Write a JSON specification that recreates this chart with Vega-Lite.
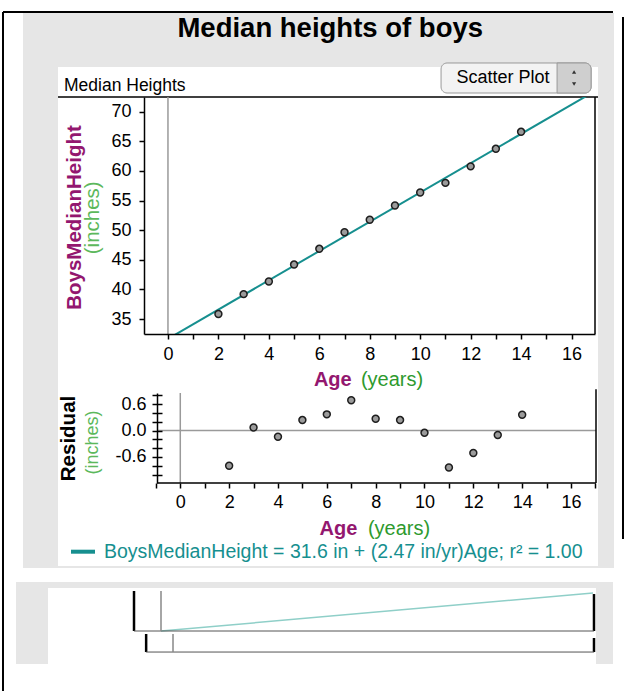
{
  "$schema": "https://vega.github.io/schema/vega-lite/v6.json",
  "background": "white",
  "padding": {"left": 1, "top": 10, "right": 4, "bottom": 0},
  "config": {
    "font": "Liberation Sans",
    "view": {"stroke": null},
    "axis": {"grid": false, "domainColor": "#000", "domainWidth": 1.5, "tickColor": "#000", "tickWidth": 1.5, "tickSize": 5, "labelColor": "#000", "labelFontSize": 18, "labelFont": "Liberation Sans", "labelFlush": false, "labelOverlap": false, "zindex": 1, "titleFont": "Liberation Sans"}
  },
  "datasets": {
    "boys": [
      {"Age": 2, "Height": 35.85, "Residual": -0.80},
      {"Age": 3, "Height": 39.2, "Residual": 0.07},
      {"Age": 4, "Height": 41.34, "Residual": -0.14},
      {"Age": 5, "Height": 44.19, "Residual": 0.24},
      {"Age": 6, "Height": 46.85, "Residual": 0.37},
      {"Age": 7, "Height": 49.65, "Residual": 0.69},
      {"Age": 8, "Height": 51.75, "Residual": 0.27},
      {"Age": 9, "Height": 54.17, "Residual": 0.24},
      {"Age": 10, "Height": 56.36, "Residual": -0.05},
      {"Age": 11, "Height": 57.98, "Residual": -0.84},
      {"Age": 12, "Height": 60.77, "Residual": -0.51},
      {"Age": 13, "Height": 63.73, "Residual": -0.10},
      {"Age": 14, "Height": 66.6, "Residual": 0.36}
    ],
    "one": [{}]
  },
  "bounds": "flush",
  "spacing": 59,
  "vconcat": [
    {
      "width": 451,
      "height": 237,
      "data": {"name": "boys"},
      "resolve": {"axis": {"x": "independent", "y": "independent"}},
      "layer": [
        {"data": {"name": "one"}, "mark": {"type": "rect", "fill": "#e6e6e6"},
         "encoding": {"x": {"datum": -5.747, "axis": null}, "x2": {"datum": 17.683}, "y": {"datum": 86.661, "axis": null}, "y2": {"datum": -7.034}}},
        {"data": {"name": "one"}, "mark": {"type": "rect", "fill": "#ffffff"},
         "encoding": {"x": {"datum": -4.359, "axis": null}, "x2": {"datum": 17.049}, "y": {"datum": 77.545, "axis": null}, "y2": {"datum": -6.696}}},
        {"data": {"name": "one"}, "mark": {"type": "rect", "fill": "#e6e6e6"},
         "encoding": {"x": {"datum": -6.024, "axis": null}, "x2": {"datum": 17.643}, "y": {"datum": -9.397, "axis": null}, "y2": {"datum": -23.24}}},
        {"data": {"name": "one"}, "mark": {"type": "rect", "fill": "#ffffff"},
         "encoding": {"x": {"datum": -4.756, "axis": null}, "x2": {"datum": 16.969}, "y": {"datum": -10.41, "axis": null}, "y2": {"datum": -23.24}}},
        {"data": {"name": "one"}, "mark": {"type": "rule", "color": "#000", "strokeWidth": 2},
         "encoding": {"x": {"datum": -6.54, "axis": null}, "y": {"datum": 86.83, "axis": null}, "y2": {"datum": -27.967}}},
        {"data": {"name": "one"}, "mark": {"type": "rule", "color": "#000", "strokeWidth": 2},
         "encoding": {"x": {"datum": -6.54, "axis": null}, "x2": {"datum": 17.643}, "y": {"datum": 86.83, "axis": null}}},
        {"data": {"name": "one"}, "mark": {"type": "rule", "color": "#000", "strokeWidth": 2},
         "encoding": {"x": {"datum": 18.04, "axis": null}, "y": {"datum": 85.986, "axis": null}, "y2": {"datum": -2.138}}},
        {"data": {"name": "one"}, "mark": {"type": "rule", "color": "#8fcfc8", "strokeWidth": 1.5},
         "encoding": {"x": {"datum": -0.276, "axis": null}, "x2": {"datum": 16.851}, "y": {"datum": -17.67, "axis": null}, "y2": {"datum": -11.25}}},
        {"data": {"name": "one"}, "mark": {"type": "rule", "color": "#000", "strokeWidth": 2.5},
         "encoding": {"x": {"datum": -1.346, "axis": null}, "y": {"datum": -10.92, "axis": null}, "y2": {"datum": -17.67}}},
        {"data": {"name": "one"}, "mark": {"type": "rule", "color": "#000", "strokeWidth": 2.5},
         "encoding": {"x": {"datum": 16.89, "axis": null}, "y": {"datum": -11.43, "axis": null}, "y2": {"datum": -17.67}}},
        {"data": {"name": "one"}, "mark": {"type": "rule", "color": "#000", "strokeWidth": 2.5},
         "encoding": {"x": {"datum": -0.865, "axis": null}, "y": {"datum": -18.18, "axis": null}, "y2": {"datum": -21.22}}},
        {"data": {"name": "one"}, "mark": {"type": "rule", "color": "#000", "strokeWidth": 2.5},
         "encoding": {"x": {"datum": 16.89, "axis": null}, "y": {"datum": -18.85, "axis": null}, "y2": {"datum": -21.22}}},
        {"data": {"name": "one"}, "mark": {"type": "rule", "color": "#555", "strokeWidth": 1},
         "encoding": {"x": {"datum": -1.346, "axis": null}, "x2": {"datum": 16.89}, "y": {"datum": -17.67, "axis": null}}},
        {"data": {"name": "one"}, "mark": {"type": "rule", "color": "#555", "strokeWidth": 1},
         "encoding": {"x": {"datum": -0.865, "axis": null}, "x2": {"datum": 16.89}, "y": {"datum": -21.22, "axis": null}}},
        {"data": {"name": "one"}, "mark": {"type": "rule", "color": "#888", "strokeWidth": 1.5},
         "encoding": {"x": {"datum": -0.276, "axis": null}, "y": {"datum": -10.92, "axis": null}, "y2": {"datum": -17.67}}},
        {"data": {"name": "one"}, "mark": {"type": "rule", "color": "#888", "strokeWidth": 1.5},
         "encoding": {"x": {"datum": 0.2, "axis": null}, "y": {"datum": -18.18, "axis": null}, "y2": {"datum": -21.22}}},
        {"data": {"name": "one"}, "mark": {"type": "rule", "color": "#000", "strokeWidth": 1.5},
         "encoding": {"x": {"datum": -4.359, "axis": null}, "x2": {"datum": 17.049}, "y": {"datum": 72.48, "axis": null}}},
        {"data": {"name": "one"}, "mark": {"type": "rule", "color": "#000", "strokeWidth": 1.5},
         "encoding": {"x": {"datum": 16.93, "axis": null}, "y": {"datum": 32.47, "axis": null}, "y2": {"datum": 72.48}}},
        {"data": {"name": "one"}, "mark": {"type": "rule", "color": "#9a9a9a", "strokeWidth": 1.5},
         "encoding": {"x": {"datum": 0, "axis": null}, "y": {"datum": 32.47, "axis": null}, "y2": {"datum": 72.48}}},
        {"data": {"name": "one"}, "mark": {"type": "text", "text": "Median heights of boys", "fontSize": 27.5, "fontWeight": "bold", "align": "center", "baseline": "alphabetic", "color": "#000"},
         "encoding": {"x": {"datum": 6.433, "axis": null}, "y": {"datum": 82.693, "axis": null}}},
        {"data": {"name": "one"}, "mark": {"type": "text", "text": "Median Heights", "fontSize": 17.5, "align": "left", "baseline": "alphabetic", "color": "#000"},
         "encoding": {"x": {"datum": -4.122, "axis": null}, "y": {"datum": 73.493, "axis": null}}},
        {"data": {"name": "one"}, "mark": {"type": "rect", "fill": "#f3f3f3", "stroke": "#999", "strokeWidth": 1, "cornerRadius": 6},
         "encoding": {"x": {"datum": 10.827, "axis": null}, "x2": {"datum": 16.774}, "y": {"datum": 78.22, "axis": null}, "y2": {"datum": 73.155}}},
        {"data": {"name": "one"}, "mark": {"type": "rect", "fill": "#cfcfcf", "stroke": "#999", "strokeWidth": 1, "cornerRadiusTopRight": 6, "cornerRadiusBottomRight": 6},
         "encoding": {"x": {"datum": 15.426, "axis": null}, "x2": {"datum": 16.774}, "y": {"datum": 78.22, "axis": null}, "y2": {"datum": 73.155}}},
        {"data": {"name": "one"}, "mark": {"type": "point", "shape": "triangle-up", "filled": true, "size": 18, "color": "#333", "opacity": 1},
         "encoding": {"x": {"datum": 16.101, "axis": null}, "y": {"datum": 76.701, "axis": null}}},
        {"data": {"name": "one"}, "mark": {"type": "point", "shape": "triangle-down", "filled": true, "size": 18, "color": "#333", "opacity": 1},
         "encoding": {"x": {"datum": 16.101, "axis": null}, "y": {"datum": 74.675, "axis": null}}},
        {"data": {"name": "one"}, "mark": {"type": "text", "text": "Scatter Plot", "fontSize": 18, "align": "center", "baseline": "middle", "color": "#000"},
         "encoding": {"x": {"datum": 13.283, "axis": null}, "y": {"datum": 75.688, "axis": null}}},
        {
          "transform": [{"regression": "Height", "on": "Age", "extent": [-1, 17]}],
          "mark": {"type": "line", "strokeWidth": 2, "clip": true},
          "encoding": {
            "x": {"field": "Age", "type": "quantitative", "scale": {"domain": [-0.95, 16.93], "nice": false, "zero": false},
                  "axis": {"orient": "bottom", "zindex": 2, "labels": false, "ticks": false, "domain": false, "title": "(years)", "titleColor": "#2e9a2e", "titleFontSize": 20, "titleFontWeight": "normal", "titleX": 247.5, "titleY": 51.7, "titleAlign": "center", "titleBaseline": "alphabetic"}},
            "y": {"field": "Height", "type": "quantitative", "scale": {"domain": [32.47, 72.48], "nice": false, "zero": false},
                  "axis": {"orient": "left", "zindex": 2, "labels": false, "ticks": false, "domain": false, "title": "BoysMedianHeight", "titleColor": "#93176f", "titleFontSize": 20.5, "titleFontWeight": "bold", "titleX": -60, "titleY": 120, "titleAlign": "center", "titleBaseline": "bottom"}},
            "color": {"datum": "BoysMedianHeight = 31.6 in + (2.47 in/yr)Age; r² = 1.00", "scale": {"range": ["#168f8f"]},
                      "legend": {"orient": "none", "legendX": -75, "legendY": 440.7, "title": null, "padding": 0, "symbolType": "stroke", "symbolSize": 576, "symbolStrokeWidth": 4, "labelFontSize": 19.5, "labelColor": "#168f8f", "labelOffset": 7, "labelLimit": 700, "labelFont": "Liberation Sans"}}
          }
        },
        {
          "mark": {"type": "point", "filled": true, "fill": "#9b9b9b", "stroke": "#1e1e1e", "strokeWidth": 1.5, "size": 48, "opacity": 1},
          "encoding": {
            "x": {"field": "Age", "type": "quantitative", "scale": {"domain": [-0.95, 16.93], "nice": false, "zero": false},
                  "axis": {"orient": "bottom", "zindex": 2, "values": [-1, 0, 1, 2, 3, 4, 5, 6, 7, 8, 9, 10, 11, 12, 13, 14, 15, 16, 17], "labelExpr": "datum.value >= 0 && datum.value % 2 == 0 ? datum.label : ''", "labelPadding": 6, "title": "Age", "titleColor": "#93176f", "titleFontSize": 20, "titleFontWeight": "bold", "titleX": 188.3, "titleY": 51.7, "titleAlign": "center", "titleBaseline": "alphabetic"}},
            "y": {"field": "Height", "type": "quantitative", "scale": {"domain": [32.47, 72.48], "nice": false, "zero": false},
                  "axis": {"orient": "left", "zindex": 2, "values": [35, 40, 45, 50, 55, 60, 65, 70], "labelPadding": 8, "title": "(inches)", "titleColor": "#5cb85c", "titleFontSize": 20.5, "titleFontWeight": "normal", "titleX": -41.3, "titleY": 120.3, "titleAlign": "center", "titleBaseline": "bottom"}}
          }
        }
      ]
    },
    {
      "width": 452,
      "height": 90,
      "data": {"name": "boys"},
      "resolve": {"axis": {"x": "independent", "y": "independent"}},
      "layer": [
        {"data": {"name": "one"}, "mark": {"type": "rule", "color": "#9a9a9a", "strokeWidth": 1.5},
         "encoding": {
           "x": {"datum": -0.95, "axis": {"orient": "bottom", "zindex": 2, "labels": false, "ticks": false, "domain": false, "title": "(years)", "titleColor": "#2e9a2e", "titleFontSize": 20, "titleFontWeight": "normal", "titleX": 254.5, "titleY": 51, "titleAlign": "center", "titleBaseline": "alphabetic"}},
           "x2": {"datum": 17.023},
           "y": {"datum": 0, "axis": {"orient": "left", "zindex": 2, "offset": -13, "labels": false, "ticks": true, "tickSize": -5, "values": [-1, -0.8, -0.6, -0.4, -0.2, 0, 0.2, 0.4, 0.6, 0.8], "domain": false, "title": "Residual", "titleColor": "#000", "titleFontSize": 20.5, "titleFontWeight": "bold", "titleX": -79, "titleY": 45, "titleAlign": "center", "titleBaseline": "bottom"}}
         }},
        {"data": {"name": "one"}, "mark": {"type": "rule", "color": "#9a9a9a", "strokeWidth": 1.5},
         "encoding": {"x": {"datum": 0, "axis": null}, "y": {"datum": -1.193, "axis": null}, "y2": {"datum": 0.856}}},
        {"data": {"name": "one"}, "mark": {"type": "rule", "color": "#000", "strokeWidth": 1.5},
         "encoding": {"x": {"datum": -0.95, "axis": null}, "x2": {"datum": 17.023}, "y": {"datum": -1.193, "axis": null}}},
        {"data": {"name": "one"}, "mark": {"type": "rule", "color": "#000", "strokeWidth": 1.5},
         "encoding": {"x": {"datum": 17.023, "axis": null}, "y": {"datum": -1.193, "axis": null}, "y2": {"datum": 0.94}}},
        {
          "mark": {"type": "point", "filled": true, "fill": "#9b9b9b", "stroke": "#1e1e1e", "strokeWidth": 1.5, "size": 48, "opacity": 1},
          "encoding": {
            "x": {"field": "Age", "type": "quantitative", "scale": {"domain": [-1.486, 17.023], "nice": false, "zero": false},
                  "axis": {"orient": "bottom", "zindex": 2, "domain": false, "values": [-1, 0, 1, 2, 3, 4, 5, 6, 7, 8, 9, 10, 11, 12, 13, 14, 15, 16, 17], "labelExpr": "datum.value >= 0 && datum.value % 2 == 0 ? datum.label : ''", "labelPadding": 5, "title": "Age", "titleColor": "#93176f", "titleFontSize": 20, "titleFontWeight": "bold", "titleX": 194, "titleY": 51, "titleAlign": "center", "titleBaseline": "alphabetic"}},
            "y": {"field": "Residual", "type": "quantitative", "scale": {"domain": [-1.193, 0.856], "nice": false, "zero": false},
                  "axis": {"orient": "left", "zindex": 2, "offset": -13, "values": [-1, -0.8, -0.6, -0.4, -0.2, 0, 0.2, 0.4, 0.6, 0.8], "labelExpr": "abs(datum.value) < 0.01 || abs(abs(datum.value) - 0.6) < 0.01 ? replace(format(datum.value, '.1f'), '\u2212', '-') : ''", "labelPadding": 6, "title": "(inches)", "titleColor": "#5cb85c", "titleFontSize": 18, "titleFontWeight": "normal", "titleX": -55.3, "titleY": 49, "titleAlign": "center", "titleBaseline": "bottom"}}
          }
        }
      ]
    }
  ]
}
